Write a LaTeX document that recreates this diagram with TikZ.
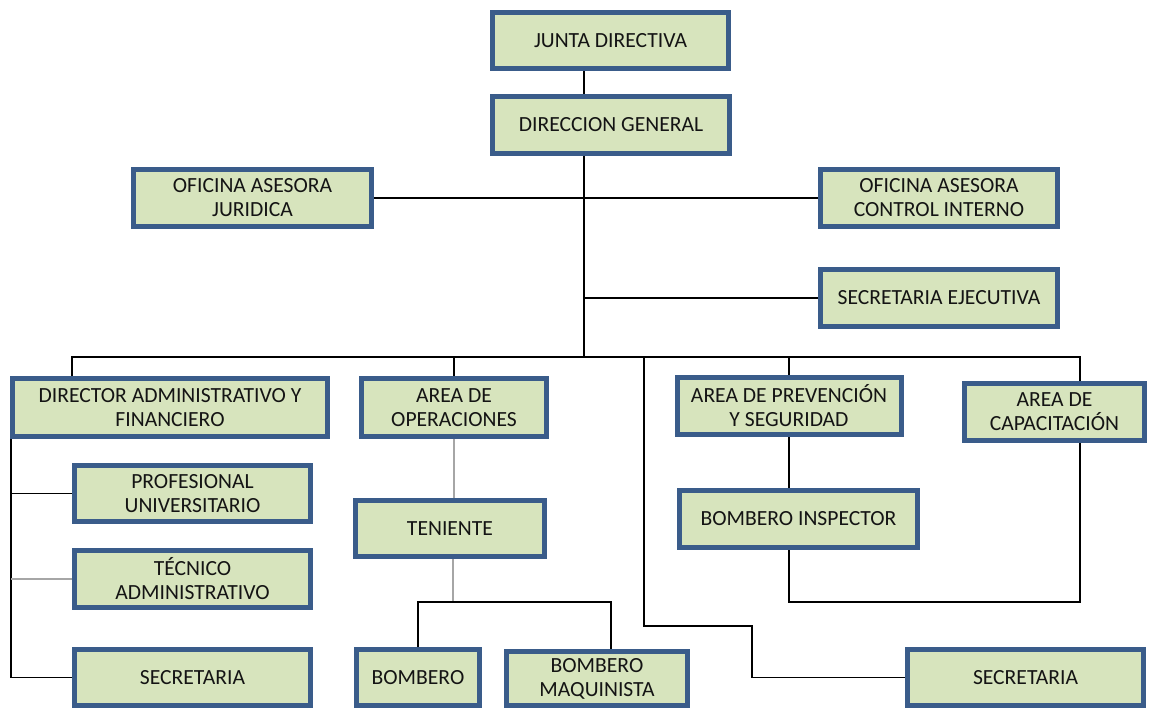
\documentclass[tikz,border=0pt]{standalone}
\usepackage{fontspec}
\setmainfont{Carlito}
\usetikzlibrary{backgrounds}
\definecolor{boxfill}{RGB}{215,228,189}
\definecolor{boxline}{RGB}{58,92,138}
\definecolor{txt}{RGB}{20,20,20}
\tikzset{
  box/.style={draw=boxline, line width=5pt, fill=boxfill, align=center, inner sep=0pt,
    text=txt, font=\fontsize{21.6}{24}\selectfont},
  conn/.style={line width=1.6pt, black},
  gconn/.style={line width=1.6pt, gray!70},
}
\begin{document}
\begin{tikzpicture}[x=1pt,y=-1pt]
\useasboundingbox (0,0) rectangle (1149,710);
% nodes
\node[box, minimum width=236, minimum height=56] (jd) at (610.5,40.5) {JUNTA DIRECTIVA};
\node[box, minimum width=237, minimum height=57] (dg) at (611,125) {DIRECCION GENERAL};
\node[box, minimum width=238, minimum height=57] (oj) at (252.5,198) {OFICINA ASESORA\\JURIDICA};
\node[box, minimum width=237, minimum height=57] (oc) at (939,198) {OFICINA ASESORA\\CONTROL INTERNO};
\node[box, minimum width=237, minimum height=57] (se) at (939,298) {SECRETARIA EJECUTIVA};
\node[box, minimum width=315, minimum height=58] (daf) at (170,407.5) {DIRECTOR ADMINISTRATIVO Y\\FINANCIERO};
\node[box, minimum width=185, minimum height=58] (ao) at (454,407.5) {AREA DE\\OPERACIONES};
\node[box, minimum width=224, minimum height=57] (ap) at (789,406) {AREA DE PREVENCIÓN\\Y SEGURIDAD};
\node[box, minimum width=180, minimum height=57] (ac) at (1054.5,412) {AREA DE\\CAPACITACIÓN};
\node[box, minimum width=236, minimum height=56] (pu) at (192.5,493.5) {PROFESIONAL\\UNIVERSITARIO};
\node[box, minimum width=236, minimum height=57] (ta) at (192.5,579) {TÉCNICO\\ADMINISTRATIVO};
\node[box, minimum width=236, minimum height=56] (s1) at (192.5,677.5) {SECRETARIA};
\node[box, minimum width=189, minimum height=56] (te) at (450,528.5) {TENIENTE};
\node[box, minimum width=123, minimum height=56] (bo) at (418,677.5) {BOMBERO};
\node[box, minimum width=181, minimum height=54] (bm) at (597,678.5) {BOMBERO\\MAQUINISTA};
\node[box, minimum width=238, minimum height=57] (bi) at (798.5,519) {BOMBERO INSPECTOR};
\node[box, minimum width=236, minimum height=56] (s2) at (1025.5,677.5) {SECRETARIA};
% helper coordinates
\coordinate (tx) at (584,0);
\coordinate (bus) at (584,357);
\coordinate (busL) at (72,357);
\coordinate (busR) at (1080,357);
\coordinate (lv) at (11,0);
\coordinate (tb) at (453,602);
\coordinate (bmx) at (611,602);
\coordinate (loop) at (1080,602);
\coordinate (sa) at (644,357);
\coordinate (sb) at (752,626);
\begin{scope}[on background layer]
\fill[white] (0,0) rectangle (1149,710);
\draw[conn] (jd.south -| tx) -- (dg.north -| tx);
\draw[conn] (dg.south -| tx) -- (bus);
\draw[conn] (oj.east) -- (oc.west);
\draw[conn] (se.west) -- (se.west -| tx);
\draw[conn] (daf.north -| busL) -- (busL) -- (busR) -- (ac.north -| busR);
\draw[conn] (ao.north) -- (ao.north |- bus);
\draw[conn] (ap.north) -- (ap.north |- bus);
\draw[conn] (daf.south -| lv) |- (s1.west);
\draw[conn] (pu.west) -- (pu.west -| lv);
\draw[gconn] (ta.west) -- (ta.west -| lv);
\draw[gconn] (ao.south) -- (ao.south |- te.north);
\draw[gconn] (te.south -| tb) -- (tb);
\draw[conn] (bo.north) |- (bmx) -- (bm.north -| bmx);
\draw[conn] (ap.south) -- (ap.south |- bi.north);
\draw[conn] (bi.south -| ap.south) |- (loop) -- (ac.south -| loop);
\draw[conn] (sa) |- (sb) |- (s2.west);
\end{scope}
\end{tikzpicture}
\end{document}
